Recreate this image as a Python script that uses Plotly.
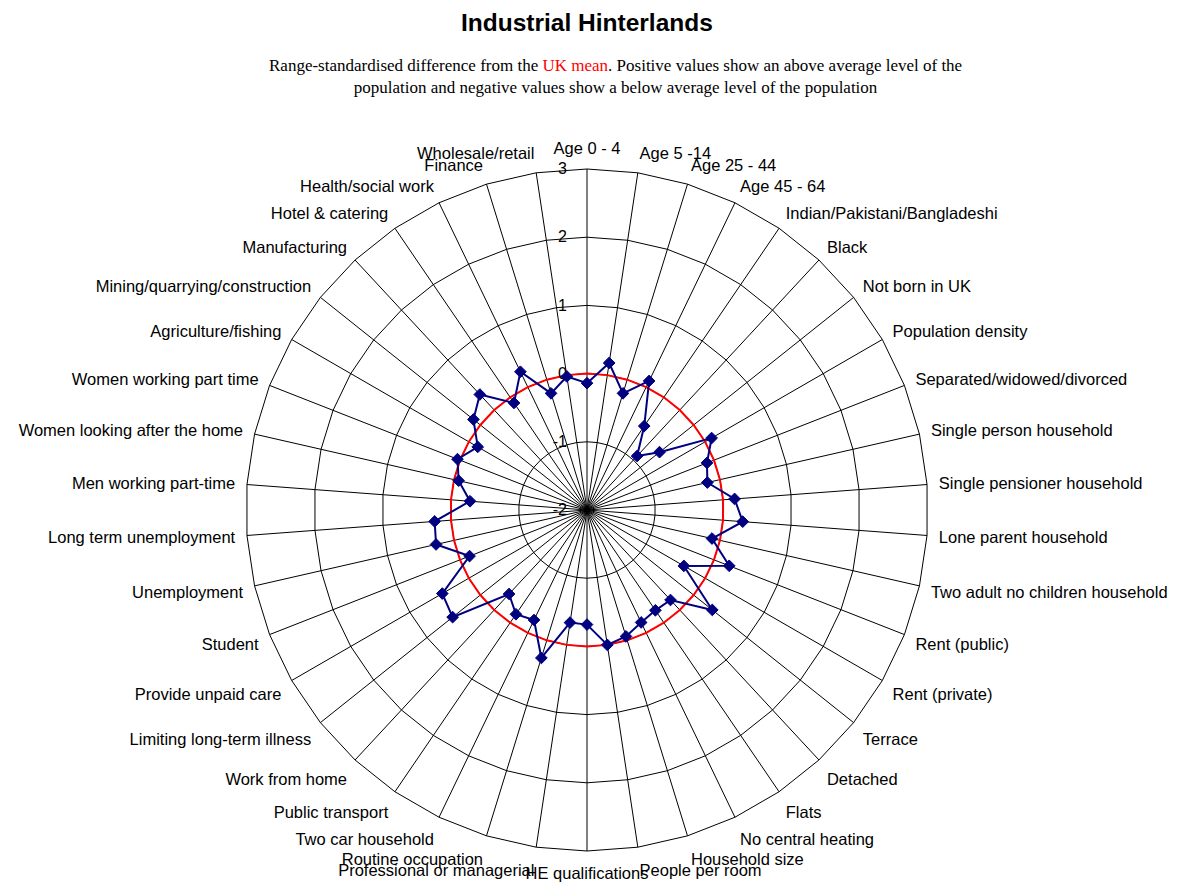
import plotly.graph_objects as go

categories = [
    "Age 0 - 4", "Age 5 -14", "Age 25 - 44", "Age 45 - 64",
    "Indian/Pakistani/Bangladeshi", "Black", "Not born in UK",
    "Population density", "Separated/widowed/divorced",
    "Single person household", "Single pensioner household",
    "Lone parent household", "Two adult no children household",
    "Rent (public)", "Rent (private)", "Terrace", "Detached", "Flats",
    "No central heating", "Household size", "People per room",
    "HE qualifications", "Professional or managerial",
    "Routine occupation", "Two car household", "Public transport",
    "Work from home", "Limiting long-term illness", "Provide unpaid care",
    "Student", "Unemployment", "Long term unemployment",
    "Men working part-time", "Women looking after the home",
    "Women working part time", "Agriculture/fishing",
    "Mining/quarrying/construction", "Manufacturing", "Hotel & catering",
    "Health/social work", "Finance", "Wholesale/retail",
]

cluster_values = [
    -0.14, 0.18, -0.21, 0.10, -0.51, -0.92, -0.64, 0.11, -0.11, -0.19,
    0.17, 0.29, -0.12, 0.24, -0.36, 0.35, -0.20, -0.22, -0.17, -0.06,
    0.00, -0.32, -0.33, 0.27, -0.21, -0.15, -0.32, 0.52, 0.45, -0.15,
    0.27, 0.24, -0.28, -0.07, 0.04, -0.15, 0.13, 0.31, -0.10, 0.25,
    -0.21, -0.02,
]

uk_mean = [0.0] * len(categories)

radial_ticks = [-2, -1, 0, 1, 2, 3]
radial_range = [-2, 3]

# page has an 8px body margin; convert page pixels to paper coords
W, H = 1181, 885
OFF = 8


def px(x):
    return (x - OFF) / W


def py(y):
    return 1 - (y - OFF) / H


fig = go.Figure()

fig.add_trace(go.Scatterpolar(
    r=uk_mean + [uk_mean[0]],
    theta=categories + [categories[0]],
    mode="lines",
    line=dict(color="#ff0000", width=2),
    name="UK mean",
    hoverinfo="skip",
    subplot="polar",
))

fig.add_trace(go.Scatterpolar(
    r=cluster_values + [cluster_values[0]],
    theta=categories + [categories[0]],
    mode="lines",
    line=dict(color="#000080", width=2),
    name="Industrial Hinterlands",
    hoverinfo="skip",
    subplot="polar",
))

# markers on an overlaid circular polar (linear gridshape hides markers)
fig.add_trace(go.Scatterpolar(
    r=cluster_values,
    theta=categories,
    mode="markers",
    marker=dict(symbol="diamond", size=9, color="#000080",
                line=dict(color="#000080", width=1)),
    name="Industrial Hinterlands",
    subplot="polar2",
))

cx, cy, R = 587, 510, 341
domain = dict(x=[px(cx - R), px(cx + R)], y=[py(cy + R), py(cy - R)])

fig.update_layout(
    width=W,
    height=H,
    paper_bgcolor="white",
    plot_bgcolor="white",
    showlegend=False,
    margin=dict(l=0, r=0, t=0, b=0),
    font=dict(family="Liberation Sans, Arial, sans-serif", size=16, color="black"),
    polar=dict(
        domain=domain,
        bgcolor="white",
        gridshape="linear",
        angularaxis=dict(
            categoryorder="array",
            categoryarray=categories,
            direction="clockwise",
            rotation=90,
            showline=True,
            linecolor="black",
            linewidth=1,
            showgrid=True,
            gridcolor="black",
            gridwidth=1,
            ticks="outside",
            ticklen=8,
            tickcolor="rgba(0,0,0,0)",
            tickfont=dict(family="Liberation Sans, Arial, sans-serif", size=16.5, color="black"),
        ),
        radialaxis=dict(
            range=radial_range,
            tickvals=radial_ticks,
            ticktext=[str(t) for t in radial_ticks],
            angle=90,
            tickangle=90,
            side="counterclockwise",
            showline=False,
            showgrid=True,
            gridcolor="black",
            gridwidth=1,
            ticks="outside",
            ticklen=14,
            tickcolor="rgba(0,0,0,0)",
            tickfont=dict(family="Liberation Sans, Arial, sans-serif", size=16, color="black"),
        ),
    ),
    polar2=dict(
        domain=domain,
        bgcolor="rgba(0,0,0,0)",
        gridshape="circular",
        angularaxis=dict(
            categoryorder="array",
            categoryarray=categories,
            direction="clockwise",
            rotation=90,
            showline=False,
            showgrid=False,
            showticklabels=False,
            ticks="",
        ),
        radialaxis=dict(
            range=radial_range,
            showline=False,
            showgrid=False,
            showticklabels=False,
            ticks="",
        ),
    ),
    annotations=[
        dict(
            text="<b>Industrial Hinterlands</b>",
            x=px(587), y=py(23), xref="paper", yref="paper",
            xanchor="center", yanchor="middle",
            showarrow=False,
            font=dict(family="Liberation Sans, Arial, sans-serif", size=24.5, color="black"),
        ),
        dict(
            text=("Range-standardised difference from the <span style='color:#ff0000'>UK mean</span>. "
                  "Positive values show an above average level of the<br>"
                  "population and negative values show a below average level of the population"),
            x=px(616), y=py(76), xref="paper", yref="paper",
            xanchor="center", yanchor="middle",
            showarrow=False,
            font=dict(family="Liberation Serif, Times New Roman, serif", size=17, color="black"),
        ),
    ],
)

fig.write_html("out.html")
